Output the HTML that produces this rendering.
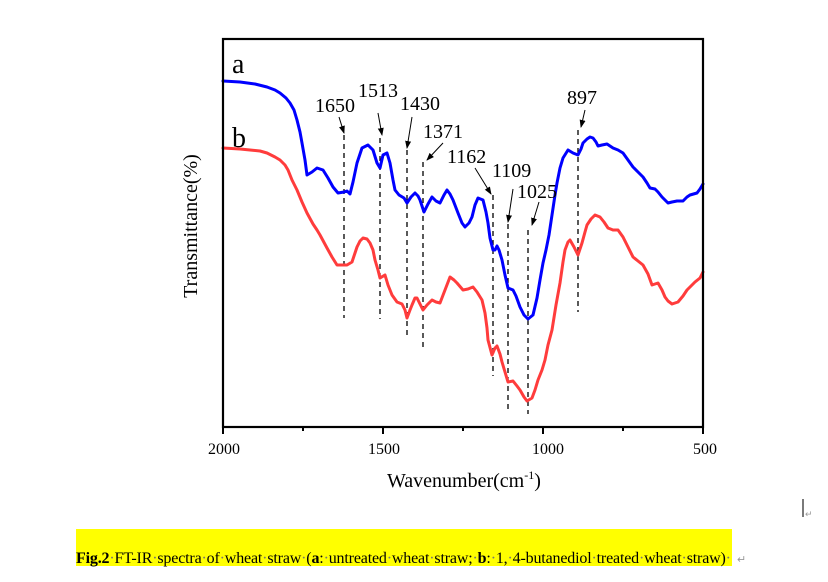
<!DOCTYPE html>
<html><head><meta charset="utf-8"><style>
html,body{margin:0;padding:0;background:#fff;}
svg{display:block;}
text{font-family:"Liberation Serif","Times New Roman",serif;fill:#000;}
</style></head><body>
<svg width="828" height="582" viewBox="0 0 828 582" xmlns="http://www.w3.org/2000/svg">
<defs>
<marker id="ah" markerWidth="8" markerHeight="8" refX="7" refY="4" orient="auto" markerUnits="userSpaceOnUse">
<path d="M0,1 L8,4 L0,7 z" fill="#000"/>
</marker>
</defs>
<rect x="0" y="0" width="828" height="582" fill="#fff"/>
<!-- dashed lines -->
<g stroke="#000" stroke-width="1.3" stroke-dasharray="5 4" fill="none">
<line x1="344" y1="135" x2="344" y2="318"/>
<line x1="380" y1="138" x2="380" y2="319"/>
<line x1="407" y1="150" x2="407" y2="338"/>
<line x1="423" y1="162" x2="423" y2="347"/>
<line x1="493" y1="195" x2="493" y2="376"/>
<line x1="508" y1="224" x2="508" y2="409"/>
<line x1="528" y1="230" x2="528" y2="414"/>
<line x1="578" y1="130" x2="578" y2="312"/>
</g>
<!-- arrows -->
<g stroke="#000" stroke-width="1" fill="none" marker-end="url(#ah)">
<line x1="339" y1="117" x2="344" y2="133"/>
<line x1="378" y1="113" x2="382" y2="135"/>
<line x1="412" y1="117" x2="407" y2="148"/>
<line x1="443" y1="143" x2="427" y2="160"/>
<line x1="475" y1="168" x2="491" y2="194"/>
<line x1="513" y1="189" x2="508" y2="222"/>
<line x1="539" y1="202" x2="532" y2="225"/>
<line x1="585" y1="110" x2="581" y2="127"/>
</g>
<!-- curves -->
<polyline fill="none" stroke="#0000ff" stroke-width="3" stroke-linejoin="round" stroke-linecap="round" points="223,81 240,82 255,84 267,87 275,90 280,93 286,98 290,103 294,110 297,120 300,132 302,143 305,160 307,175 312,172 317,168 323,170 328,178 333,187 338,193 344,192 347,191 350,194 353,182 357,163 362,148 368,145 373,150 377,163 380,168 383,155 387,153 390,163 393,180 395,190 399,195 404,198 407,203 411,197 415,193 418,196 420,200 424,212 428,204 432,197 436,201 440,203 444,195 447,190 450,194 453,200 458,213 462,223 465,227 469,223 472,217 475,205 478,198 483,200 486,212 488,223 490,238 493,250 495,250 497,246 499,250 502,260 505,275 508,288 513,290 516,296 520,307 524,315 528,319 533,315 537,298 540,280 543,263 546,250 549,235 552,215 555,195 557,183 560,168 563,158 568,150 573,153 578,155 581,149 583,143 587,139 590,137 593,138 596,142 598,146 602,145 607,144 613,148 618,150 623,153 628,160 633,167 638,172 643,177 647,183 650,188 655,189 658,192 662,197 668,203 672,202 677,201 683,201 687,197 690,195 697,193 700,189 703,184"/>
<polyline fill="none" stroke="#ff3c3c" stroke-width="3" stroke-linejoin="round" stroke-linecap="round" points="223,148 240,149 250,150 260,151 267,153 275,157 280,160 285,165 288,170 292,180 297,190 302,202 307,213 313,224 317,230 320,235 327,248 332,257 337,265 342,265 347,265 352,262 355,253 357,247 360,241 363,238 367,239 370,243 373,250 375,260 378,270 380,278 385,275 388,285 392,295 397,302 402,304 405,310 407,318 410,310 412,305 415,298 417,298 420,304 423,310 427,305 432,300 436,302 440,303 445,290 450,277 454,280 457,283 463,290 468,289 473,287 477,292 482,300 485,313 487,328 488,340 492,355 495,348 497,346 500,354 502,362 505,372 508,382 513,381 517,386 520,390 524,397 527,401 532,398 535,390 538,380 542,370 545,360 548,345 552,330 556,305 560,283 563,262 565,250 568,242 570,240 574,247 578,255 580,249 582,243 585,232 587,225 591,219 595,215 600,217 604,222 608,228 613,230 618,230 623,237 628,247 633,257 638,261 643,265 648,274 652,285 655,284 658,283 662,290 665,297 668,301 672,304 678,302 683,296 687,290 692,285 695,282 700,278 703,272"/>
<!-- frame -->
<rect x="223" y="39" width="480" height="388" fill="none" stroke="#000" stroke-width="2.2"/>
<g stroke="#000" stroke-width="2">
<line x1="223" y1="427" x2="223" y2="434"/>
<line x1="383" y1="427" x2="383" y2="434"/>
<line x1="543" y1="427" x2="543" y2="434"/>
<line x1="703" y1="427" x2="703" y2="434"/>
<line x1="303" y1="427" x2="303" y2="431"/>
<line x1="463" y1="427" x2="463" y2="431"/>
<line x1="623" y1="427" x2="623" y2="431"/>
</g>
<!-- tick labels -->
<g font-size="16" text-anchor="middle">
<text x="224" y="454">2000</text>
<text x="384" y="454">1500</text>
<text x="548" y="454">1000</text>
<text x="705" y="454">500</text>
</g>
<text x="387" y="487" font-size="20">Wavenumber(cm<tspan font-size="12" dy="-8">-1</tspan><tspan dy="8">)</tspan></text>
<text transform="translate(197,226) rotate(-90)" font-size="20" text-anchor="middle">Transmittance(%)</text>
<!-- series labels -->
<text x="232" y="73" font-size="28">a</text>
<text x="232" y="147" font-size="28">b</text>
<!-- peak labels -->
<g font-size="20">
<text x="315" y="112">1650</text>
<text x="358" y="97">1513</text>
<text x="400" y="110">1430</text>
<text x="423" y="138">1371</text>
<text x="447" y="163">1162</text>
<text x="492" y="177">1109</text>
<text x="517" y="198">1025</text>
<text x="567" y="104">897</text>
</g>
<!-- cursor -->
<line x1="803" y1="499" x2="803" y2="517" stroke="#222" stroke-width="1.2"/>
<text x="805" y="517" font-size="9" fill="#999" style="fill:#999">↵</text>
<!-- caption -->
<rect x="76" y="529" width="656" height="37" fill="#ffff00"/>
<text x="76" y="563" font-size="16" textLength="655" lengthAdjust="spacing"><tspan font-weight="bold">Fig.2</tspan><tspan style="fill:#777">·</tspan>FT-IR<tspan style="fill:#777">·</tspan>spectra<tspan style="fill:#777">·</tspan>of<tspan style="fill:#777">·</tspan>wheat<tspan style="fill:#777">·</tspan>straw<tspan style="fill:#777">·</tspan>(<tspan font-weight="bold">a</tspan>:<tspan style="fill:#777">·</tspan>untreated<tspan style="fill:#777">·</tspan>wheat<tspan style="fill:#777">·</tspan>straw;<tspan style="fill:#777">·</tspan><tspan font-weight="bold">b</tspan>:<tspan style="fill:#777">·</tspan>1,<tspan style="fill:#777">·</tspan>4-butanediol<tspan style="fill:#777">·</tspan>treated<tspan style="fill:#777">·</tspan>wheat<tspan style="fill:#777">·</tspan>straw)<tspan style="fill:#777">·</tspan></text>
<text x="737" y="563" font-size="11" style="fill:#999">↵</text>
</svg>
</body></html>
